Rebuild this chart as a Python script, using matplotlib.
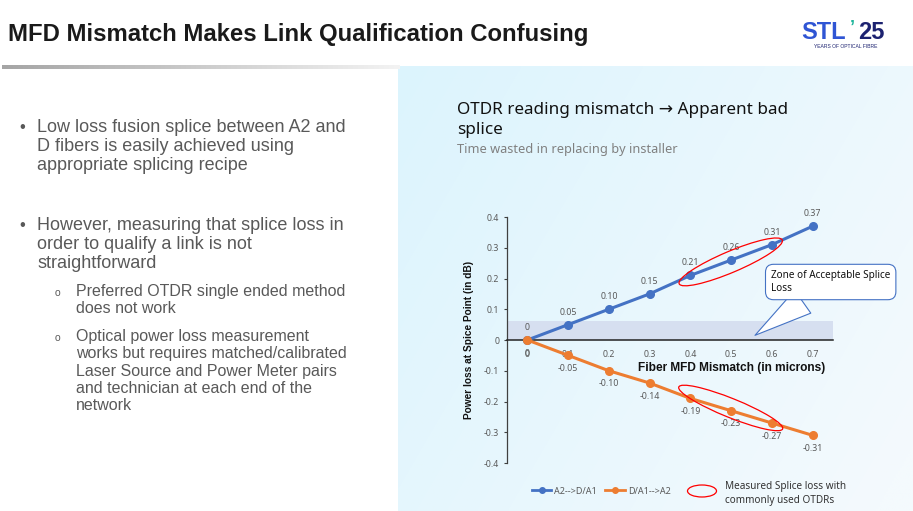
import numpy as np
import matplotlib
matplotlib.use('Agg')
import matplotlib.pyplot as plt
import matplotlib.transforms as mtransforms
from matplotlib.patches import Ellipse
from matplotlib.lines import Line2D

W, H = 913, 511

# chart data
mismatch = [0, 0.1, 0.2, 0.3, 0.4, 0.5, 0.6, 0.7]
loss_a2_d = [0, 0.05, 0.10, 0.15, 0.21, 0.26, 0.31, 0.37]
loss_d_a2 = [0, -0.05, -0.10, -0.14, -0.19, -0.23, -0.27, -0.31]
series_names = ['A2-->D/A1', 'D/A1-->A2']
x_ticks = [0, 0.1, 0.2, 0.3, 0.4, 0.5, 0.6, 0.7]
x_tick_labels = ['0', '0.1', '0.2', '0.3', '0.4', '0.5', '0.6', '0.7']
y_ticks = [0.4, 0.3, 0.2, 0.1, 0, -0.1, -0.2, -0.3, -0.4]
y_tick_labels = ['0.4', '0.3', '0.2', '0.1', '0', '-0.1', '-0.2', '-0.3', '-0.4']
zone_limit = 0.062

BLUE = '#4472c4'
ORANGE = '#ed7d31'
GREY = '#595959'
CHART_FONT = ['Noto Sans', 'DejaVu Sans']
SLIDE_FONT = ['Liberation Sans', 'DejaVu Sans']

fig = plt.figure(figsize=(W / 100, H / 100), dpi=100)
fig.patch.set_facecolor('white')
# pixel coords, origin top-left
pix = mtransforms.Affine2D().scale(1 / W, -1 / H).translate(0, 1) + fig.transFigure

# background: light blue panel + grey rule
bg = fig.add_axes([0, 0, 1, 1], zorder=-10)
gx = np.linspace(0, 1, 256)[None, :]
gy = np.linspace(0, 1, 128)[:, None]
t = np.clip(0.7 * gx + 0.35 * gy, 0, 1)
c0 = np.array([220, 244, 253]) / 255
c1 = np.array([244, 250, 253]) / 255
bg.imshow(c0 + (c1 - c0) * t[..., None], extent=[398, W, H, 66], aspect='auto',
          interpolation='bilinear')
rule = np.linspace(0, 1, 200)[None, :, None]
g0 = np.array([165, 165, 165]) / 255
g1 = np.array([243, 243, 243]) / 255
bg.imshow(g0 + (g1 - g0) * rule, extent=[2, 400, 69, 65], aspect='auto')
bg.set_xlim(0, W)
bg.set_ylim(H, 0)
bg.axis('off')

# slide title
fig.text(8, 35, 'MFD Mismatch Makes Link Qualification Confusing', transform=pix,
         fontsize=17.2, fontweight='bold', color='#1a1a1a', va='center', family=SLIDE_FONT)

# logo
fig.text(801, 39, 'STL', transform=pix, fontsize=17, fontweight='bold', color='#2f55d4',
         va='baseline', family=SLIDE_FONT)
fig.text(850, 33, '\u2019', transform=pix, fontsize=13, fontweight='bold', color='#1fb59c',
         va='baseline', family=SLIDE_FONT)
fig.text(858, 39, '25', transform=pix, fontsize=17, fontweight='bold', color='#1c2270',
         va='baseline', family=SLIDE_FONT)
fig.text(846, 47, 'YEARS OF OPTICAL FIBRE', transform=pix, fontsize=3.6, color='#1c2270',
         va='center', ha='center', family=SLIDE_FONT)

# left bullet text
TXT = '#595959'


def block(x, y0, step, lines, size):
    for i, s in enumerate(lines):
        fig.text(x, y0 + i * step, s, transform=pix, fontsize=size, color=TXT,
                 va='baseline', family=SLIDE_FONT)


fig.text(19, 132, '\u2022', transform=pix, fontsize=12, color=TXT, va='baseline', family=SLIDE_FONT)
block(37, 132, 19, ['Low loss fusion splice between A2 and', 'D fibers is easily achieved using',
                    'appropriate splicing recipe'], 13)
fig.text(19, 230, '\u2022', transform=pix, fontsize=12, color=TXT, va='baseline', family=SLIDE_FONT)
block(37, 230, 19, ['However, measuring that splice loss in', 'order to qualify a link is not',
                    'straightforward'], 13)
fig.text(55, 296, 'o', transform=pix, fontsize=7.5, color=TXT, va='baseline', family=SLIDE_FONT)
block(76, 296, 17.3, ['Preferred OTDR single ended method', 'does not work'], 11.5)
fig.text(55, 341, 'o', transform=pix, fontsize=7.5, color=TXT, va='baseline', family=SLIDE_FONT)
block(76, 341, 17.3, ['Optical power loss measurement', 'works but requires matched/calibrated',
                      'Laser Source and Power Meter pairs', 'and technician at each end of the',
                      'network'], 11.5)

# chart title
fig.text(457, 110, 'OTDR reading mismatch \u2192 Apparent bad', transform=pix, fontsize=12.3,
         color='#111111', va='center', family=CHART_FONT)
fig.text(457, 130, 'splice', transform=pix, fontsize=12.3, color='#111111', va='center',
         family=CHART_FONT)
fig.text(457, 150, 'Time wasted in replacing by installer', transform=pix, fontsize=9.2,
         color='#808080', va='center', family=CHART_FONT)

# chart
ax = fig.add_axes([507 / W, 1 - 463 / H, 326 / W, 246 / H])
ax.set_facecolor('none')
ax.set_xlim(-0.05, 0.75)
ax.set_ylim(-0.4, 0.4)
for s in ['top', 'right']:
    ax.spines[s].set_visible(False)
ax.spines['bottom'].set_position(('data', 0))
ax.spines['bottom'].set_color('#222222')
ax.spines['bottom'].set_linewidth(1.1)
ax.spines['left'].set_color('#404040')
ax.spines['left'].set_linewidth(0.9)

ax.set_xticks(x_ticks, x_tick_labels)
ax.set_yticks(y_ticks, y_tick_labels)
ax.tick_params(axis='x', length=0, pad=7, labelsize=6.3, labelcolor=GREY)
ax.tick_params(axis='y', length=2.5, width=0.8, color='#404040', pad=3, labelsize=6.3,
               labelcolor=GREY)
for lab in ax.get_xticklabels() + ax.get_yticklabels():
    lab.set_family(CHART_FONT)

ax.axhspan(0, zone_limit, color='#d6dff0', zorder=0.5, lw=0)

ax.plot(mismatch, loss_a2_d, color=BLUE, lw=2.2, marker='o', ms=5.5, zorder=3)
ax.plot(mismatch, loss_d_a2, color=ORANGE, lw=2.2, marker='o', ms=5.5, zorder=3)


def fmt(v):
    return '0' if v == 0 else f'{v:.2f}'


for x, v in zip(mismatch, loss_a2_d):
    ax.annotate(fmt(v), (x, v), xytext=(0, 9), textcoords='offset points', ha='center',
                va='center', fontsize=6.3, color=GREY, family=CHART_FONT)
for x, v in zip(mismatch, loss_d_a2):
    ax.annotate(fmt(v), (x, v), xytext=(0, -9.5), textcoords='offset points', ha='center',
                va='center', fontsize=6.3, color=GREY, family=CHART_FONT)

ax.text(0.975, 0.386, 'Fiber MFD Mismatch (in microns)', transform=ax.transAxes, ha='right',
        va='center', fontsize=8.6, fontweight='bold', color='#111111', family=SLIDE_FONT)
ax.set_ylabel('Power loss at Spice Point (in dB)', fontsize=7.3, fontweight='bold',
              color='#111111', family=SLIDE_FONT, labelpad=7)


def ring(xc, yc, w, h, ang):
    tr = mtransforms.ScaledTranslation(xc, yc, ax.transData)
    e = Ellipse((0, 0), w, h, angle=ang, transform=tr, fill=False, ec='#ff0000', lw=0.9,
                zorder=5)
    fig.add_artist(e)


ring(0.499, 0.254, 112, 21, 23)
ring(0.499, -0.221, 112, 19, -22)

# callout
ax.annotate('Zone of Acceptable Splice\nLoss', xy=(0.553, 0.01), xycoords='data',
            xytext=(771, H - 282), textcoords='figure pixels', ha='left', va='center',
            fontsize=7.2, color='#111111', family=CHART_FONT, linespacing=1.3,
            bbox=dict(boxstyle='round,pad=0.55,rounding_size=0.8', fc='white', ec=BLUE, lw=0.8),
            arrowprops=dict(arrowstyle='wedge,tail_width=2.8,shrink_factor=0.5', fc='white',
                            ec=BLUE, lw=0.8), zorder=6)

# legend
handles = [Line2D([], [], color=BLUE, lw=2, marker='o', ms=4),
           Line2D([], [], color=ORANGE, lw=2, marker='o', ms=4)]
fig.legend(handles, series_names, loc='center', bbox_to_anchor=(601 / W, 1 - 491 / H), ncol=2,
           frameon=False, handlelength=2.2, handletextpad=0.3, columnspacing=0.9,
           labelcolor=GREY, prop={'family': CHART_FONT, 'size': 6.5})
fig.add_artist(Ellipse((702, 491), 29, 12, transform=pix, fill=False, ec='#ff0000', lw=0.9))
fig.text(725, 493.5, 'Measured Splice loss with\ncommonly used OTDRs', transform=pix,
         va='center', fontsize=7.2, color='#333333', family=CHART_FONT, linespacing=1.3)

fig.savefig('out.png', dpi=100, facecolor='white')
